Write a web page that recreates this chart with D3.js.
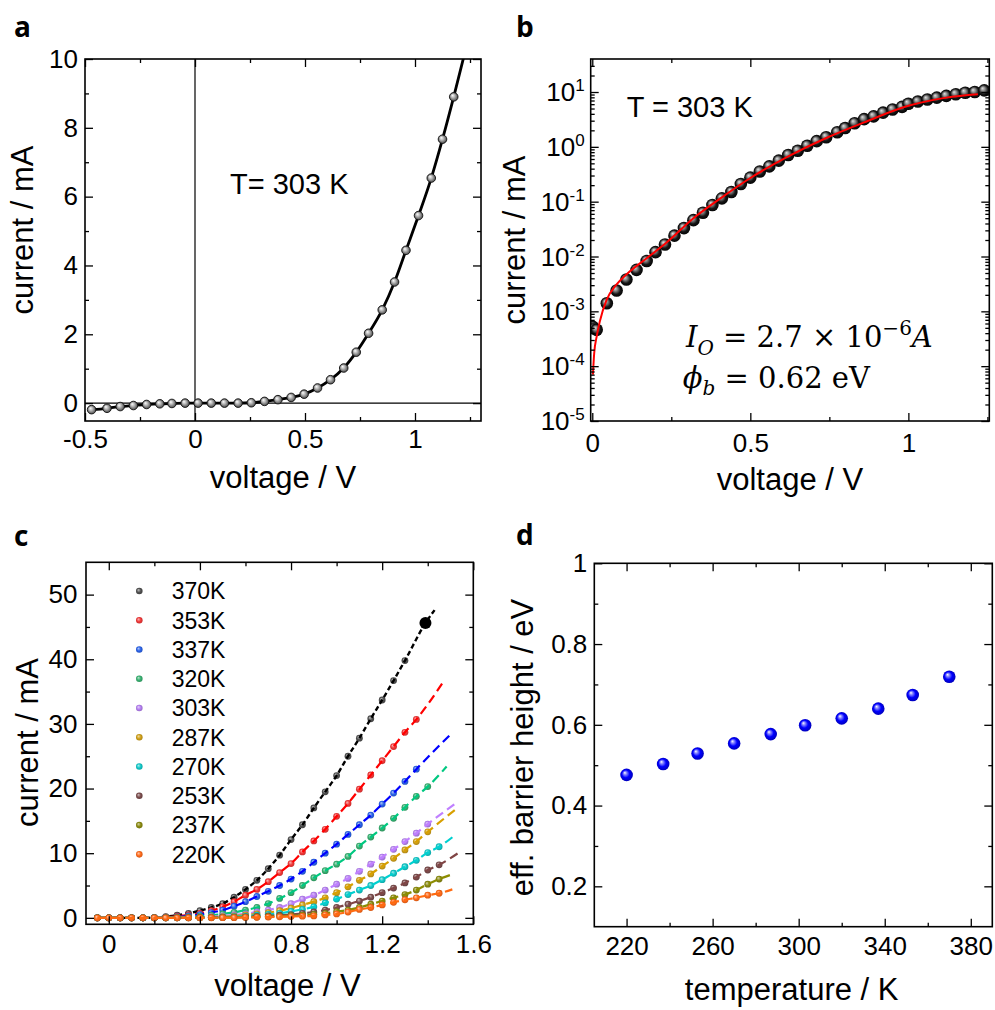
<!DOCTYPE html>
<html>
<head>
<meta charset="utf-8">
<script src="https://cdn.jsdelivr.net/npm/d3@7"></script>
<style>
body { margin: 0; background: #fff; }
text { font-family: "Liberation Sans", Arial, sans-serif; fill: #000; }
</style>
</head>
<body>
<div id="fig"></div>
<script>
// ---- panel a : I-V at 303 K (linear)
var voltA = [-0.47,-0.40,-0.34,-0.28,-0.22,-0.16,-0.105,-0.045,0.014,0.074,0.134,0.196,0.256,0.316,0.377,0.437,0.496,0.557,0.616,0.676,0.733,0.789,0.851,0.907,0.959,1.016,1.074,1.125,1.176];
var currA = [-0.19,-0.15,-0.10,-0.07,-0.04,-0.02,-0.01,0,0,0,0,0,0.01,0.05,0.10,0.165,0.26,0.44,0.68,1.02,1.48,2.03,2.71,3.52,4.44,5.45,6.54,7.67,8.9];
var lineEndA = [1.235, 10.4];

// ---- panel b : I-V at 303 K (log) and fit
var voltB = [0.002,0.014,0.046,0.077,0.108,0.14,0.172,0.2,0.23,0.26,0.29,0.32,0.35,0.38,0.41,0.44,0.47,0.5,0.53,0.56,0.59,0.62,0.65,0.68,0.71,0.74,0.775,0.8,0.83,0.86,0.89,0.92,0.95,0.98,1.0,1.03,1.06,1.09,1.12,1.15,1.18,1.21,1.24];
var currB = [5.2e-4,4.6e-4,1.4e-3,2.4e-3,3.8e-3,5.7e-3,8.3e-3,0.012,0.0166,0.024,0.033,0.046,0.063,0.087,0.115,0.15,0.21,0.275,0.355,0.44,0.56,0.71,0.85,1.05,1.27,1.5,1.85,2.2,2.7,3.2,3.6,4.2,4.8,5.35,6.1,6.7,7.3,7.9,8.5,9.1,9.7,10.0,10.7];
var fitVoltB = [0.002,0.006,0.014,0.024,0.045,0.077,0.108,0.172,0.235,0.32,0.41,0.5,0.62,0.74,0.86,1.0,1.12,1.22];
var fitCurrB = [7e-5,1.7e-4,3.5e-4,6.6e-4,1.6e-3,3.1e-3,4.7e-3,9.3e-3,0.018,0.05,0.12,0.27,0.67,1.45,2.8,5.6,7.9,9.1];

// ---- panel c : I-V at different temperatures
var tempsC = ["370K","353K","337K","320K","303K","287K","270K","253K","237K","220K"];
var markColC = ["#505050","#f03838","#2a62e8","#38b070","#b47ff0","#d0a018","#10c8c8","#7a4c4c","#8a8a10","#ff6a1a"];
var lineColC = ["#000000","#ff0000","#0000ff","#00c880","#c080ff","#d8a000","#00d0d0","#804545","#8c8c00","#ff6a10"];
var voltC = [-0.05,0,0.05,0.1,0.15,0.2,0.25,0.3,0.35,0.4,0.45,0.5,0.55,0.6,0.65,0.7,0.75,0.8,0.85,0.9,0.95,1.0,1.05,1.1,1.15,1.2,1.25,1.3,1.35,1.4,1.45];
var cur370 = [0,0,0,0,0,0.02,0.2,0.4,0.7,1.1,1.6,2.2,3.2,4.4,5.8,7.6,9.7,12.1,14.4,17.0,19.5,22.0,25.0,27.8,30.8,33.7,36.7,39.8];
var cur353 = [0,0,0,0,0,0.02,0.1,0.25,0.45,0.7,1.1,1.7,2.5,3.5,4.4,5.6,7.0,8.4,10.2,11.9,13.7,15.7,17.7,19.9,22.1,24.3,26.5,28.7,30.7];
var cur337 = [0,0,0,0,0,0.01,0.05,0.15,0.3,0.5,0.8,1.2,1.8,2.5,3.3,4.1,5.0,6.0,7.2,8.6,10.0,11.4,12.9,14.4,15.9,17.6,19.3,21.1,23.0];
var cur320 = [0,0,0,0,0,0,0.02,0.08,0.15,0.25,0.4,0.6,0.85,1.2,1.6,2.2,3.0,3.9,5.0,6.2,7.3,8.3,9.5,11.1,12.5,13.9,15.4,17.1,18.8,20.3];
var cur303 = [0,0,0,0,0,0,0.01,0.03,0.06,0.1,0.18,0.3,0.45,0.6,0.9,1.2,1.6,2.2,2.9,3.5,4.3,5.2,6.1,7.2,8.3,9.4,10.6,11.8,13.1,14.5];
var cur287 = [0,0,0,0,0,0,0.01,0.02,0.04,0.07,0.12,0.2,0.3,0.45,0.6,0.8,1.1,1.5,2.0,2.5,3.1,3.9,4.8,5.8,6.8,8.0,9.2,10.5,11.8,13.3];
var cur270 = [0,0,0,0,0,0,0,0.01,0.02,0.04,0.07,0.12,0.2,0.28,0.4,0.55,0.7,1.0,1.3,1.7,2.3,2.9,3.6,4.3,5.0,5.9,6.9,7.9,8.9,10.1,11.0];
var cur253 = [0,0,0,0,0,0,0,0,0.01,0.02,0.04,0.06,0.1,0.15,0.22,0.3,0.4,0.5,0.7,0.9,1.2,1.6,2.1,2.6,3.2,3.9,4.6,5.4,6.3,7.4,8.2];
var cur237 = [0,0,0,0,0,0,0,0,0,0.01,0.02,0.04,0.06,0.09,0.13,0.18,0.24,0.32,0.4,0.55,0.7,0.95,1.2,1.6,2.1,2.6,3.1,3.6,4.3,5.2,6.0];
var cur220 = [0,0,0,0,0,0,0,0,0,0,0.01,0.02,0.03,0.05,0.08,0.11,0.15,0.2,0.25,0.3,0.45,0.6,0.9,1.3,1.6,2.0,2.4,2.8,3.1,3.5,3.8];
var currC = [cur370,cur353,cur337,cur320,cur303,cur287,cur270,cur253,cur237,cur220];
var bigPoint370 = [1.39, 45.6];
var fitEndC = [[1.43,47.6],[1.474,36.8],[1.498,28.3],[1.483,23.4],[1.534,18.0],[1.52,16.7],[1.52,12.8],[1.537,10.1],[1.505,6.7],[1.508,4.4]];

// ---- panel d : effective barrier height
var tempD = [220,237,253,270,287,303,320,337,353,370];
var barrierD = [0.476,0.503,0.529,0.554,0.577,0.599,0.616,0.640,0.674,0.719];

var svg = d3.select("#fig").append("svg").attr("width", 995).attr("height", 1010);
var defs = svg.append("defs");

function sphereGrad(id, stops) {
  var g = defs.append("radialGradient").attr("id", id)
    .attr("cx", "50%").attr("cy", "50%").attr("r", "55%")
    .attr("fx", "35%").attr("fy", "32%");
  stops.forEach(function(s) { g.append("stop").attr("offset", s[0]).attr("stop-color", s[1]); });
}
sphereGrad("gA", [["0%","#ffffff"],["40%","#b8b8b8"],["100%","#3a3a3a"]]);
sphereGrad("gB", [["0%","#e0e0e0"],["30%","#8a8a8a"],["65%","#151515"],["100%","#000000"]]);
sphereGrad("gD", [["0%","#ffffff"],["22%","#8c8cff"],["55%","#0000ff"],["100%","#0000b0"]]);
markColC.forEach(function(c, i) {
  sphereGrad("gC" + i, [["0%", d3.interpolateRgb(c, "#ffffff")(0.65)], ["55%", c], ["100%", d3.color(c).darker(0.6)]]);
});

function clip(id, w, h) {
  defs.append("clipPath").attr("id", id).append("rect").attr("width", w).attr("height", h);
}

function addAxes(g, x, y, w, h, o) {
  var list = [
    [d3.axisBottom(x).tickValues(o.xMajor).tickSize(-8).tickPadding(o.xPad).tickFormat(o.xFmt), "translate(0," + h + ")"],
    [d3.axisBottom(x).tickValues(o.xMinor).tickSize(-4).tickFormat(""), "translate(0," + h + ")"],
    [d3.axisTop(x).tickValues(o.xMajor).tickSize(-8).tickFormat(""), null],
    [d3.axisTop(x).tickValues(o.xMinor).tickSize(-4).tickFormat(""), null],
    [d3.axisLeft(y).tickValues(o.yMajor).tickSize(-8).tickPadding(o.yPad).tickFormat(o.yFmt), null],
    [d3.axisLeft(y).tickValues(o.yMinor).tickSize(-4).tickFormat(""), null],
    [d3.axisRight(y).tickValues(o.yMajor).tickSize(-8).tickFormat(""), "translate(" + w + ",0)"],
    [d3.axisRight(y).tickValues(o.yMinor).tickSize(-4).tickFormat(""), "translate(" + w + ",0)"]
  ];
  list.forEach(function(a) {
    var ag = g.append("g").call(a[0]);
    if (a[1]) ag.attr("transform", a[1]);
    ag.attr("font-family", null).attr("font-size", null);
    ag.select(".domain").remove();
    ag.selectAll(".tick line").attr("stroke", "#000").attr("stroke-width", 1.3);
    ag.selectAll(".tick text").style("font-size", "26px");
  });
  g.append("rect").attr("width", w).attr("height", h)
    .attr("fill", "none").attr("stroke", "#000").attr("stroke-width", 1.6);
}

function fmt(d) { return String(d); }

function titles(g, w, h, xt, xBase, yt, yBase, yCenter) {
  g.append("text").attr("x", w / 2 + xt[1]).attr("y", xBase).attr("text-anchor", "middle")
    .style("font-size", "31px").text(xt[0]);
  g.append("text").attr("transform", "translate(" + yBase + "," + yCenter + ") rotate(-90)")
    .attr("text-anchor", "middle").style("font-size", "31px").text(yt);
}

function panelLetter(x, y, s) {
  svg.append("text").attr("x", x).attr("y", y).text(s)
    .style("font-family", "'Open Sans', 'DejaVu Sans', sans-serif")
    .style("font-weight", "bold").style("font-size", "28px");
}

// ================= panel a =================
(function() {
  var L = 85, T = 59, w = 396, h = 362;
  var g = svg.append("g").attr("transform", "translate(" + L + "," + T + ")");
  var x = d3.scaleLinear().domain([-0.5, 1.3]).range([0, w]);
  var y = d3.scaleLinear().domain([-0.52, 10]).range([h, 0]);
  clip("clipA", w, h);
  var pts = voltA.map(function(v, i) { return [v, currA[i]]; });
  var body = g.append("g").attr("clip-path", "url(#clipA)");
  body.append("line").attr("x1", x(0)).attr("x2", x(0)).attr("y1", 0).attr("y2", h).attr("stroke", "#000").attr("stroke-width", 1.2);
  body.append("line").attr("x1", 0).attr("x2", w).attr("y1", y(0)).attr("y2", y(0)).attr("stroke", "#000").attr("stroke-width", 1.2);
  var line = d3.line().x(function(d) { return x(d[0]); }).y(function(d) { return y(d[1]); }).curve(d3.curveMonotoneX);
  body.append("path").attr("d", line(pts.concat([lineEndA]))).attr("fill", "none").attr("stroke", "#000").attr("stroke-width", 2.8);
  body.selectAll("circle").data(pts).enter().append("circle")
    .attr("cx", function(d) { return x(d[0]); }).attr("cy", function(d) { return y(d[1]); })
    .attr("r", 4.3).attr("fill", "url(#gA)").attr("stroke", "#111").attr("stroke-width", 0.9);
  addAxes(g, x, y, w, h, {
    xMajor: [-0.5, 0, 0.5, 1], xMinor: [-0.25, 0.25, 0.75, 1.25], xPad: 9, xFmt: fmt,
    yMajor: [0, 2, 4, 6, 8, 10], yMinor: [1, 3, 5, 7, 9], yPad: 7, yFmt: fmt
  });
  g.append("text").attr("x", 230 - L).attr("y", 193.5 - T).style("font-size", "29px").text("T= 303 K");
  titles(g, w, h, ["voltage / V", 283 - L - w / 2], 488 - T, "current / mA", 33 - L, 230 - T);
})();
panelLetter(14, 37, "a");

// ================= panel b =================
(function() {
  var L = 590.7, T = 59, w = 398.6, h = 362;
  var g = svg.append("g").attr("transform", "translate(" + L + "," + T + ")");
  var x = d3.scaleLinear().domain([-0.005, 1.256]).range([0, w]);
  var y = d3.scaleLog().domain([1e-5, 40]).range([h, 0]);
  clip("clipB", w, h);
  var body = g.append("g").attr("clip-path", "url(#clipB)");
  var pts = voltB.map(function(v, i) { return [v, currB[i]]; });
  body.selectAll("circle").data(pts).enter().append("circle")
    .attr("cx", function(d) { return x(d[0]); }).attr("cy", function(d) { return y(d[1]); })
    .attr("r", 6.3).attr("fill", "url(#gB)");
  var fit = fitVoltB.map(function(v, i) { return [v, fitCurrB[i]]; });
  var line = d3.line().x(function(d) { return x(d[0]); }).y(function(d) { return y(d[1]); }).curve(d3.curveMonotoneX);
  body.append("path").attr("d", line(fit)).attr("fill", "none").attr("stroke", "#ff0000").attr("stroke-width", 2);
  var minor = [];
  for (var e = -5; e <= 1; e++) for (var k = 2; k <= 9; k++) { var v = k * Math.pow(10, e); if (v < 40) minor.push(v); }
  addAxes(g, x, y, w, h, {
    xMajor: [0, 0.5, 1], xMinor: [0.25, 0.75, 1.25], xPad: 13, xFmt: fmt,
    yMajor: [1e-5, 1e-4, 1e-3, 1e-2, 1e-1, 1, 10], yMinor: minor, yPad: 6, yFmt: function() { return ""; }
  });
  // power-of-ten labels
  var yl = g.append("g");
  [1e-5, 1e-4, 1e-3, 1e-2, 1e-1, 1, 10].forEach(function(v) {
    var t = yl.append("text").attr("x", -6).attr("y", y(v) + 9).attr("text-anchor", "end").style("font-size", "26px");
    t.append("tspan").text("10");
    t.append("tspan").attr("dy", -10).style("font-size", "17px").text(Math.round(Math.log10(v)));
  });
  g.append("text").attr("x", 626.7 - L).attr("y", 116.7 - T).style("font-size", "29px").text("T = 303 K");
  var m1 = g.append("text").attr("x", 686 - L).attr("y", 346.7 - T)
    .style("font-family", "'DejaVu Serif', 'Liberation Serif', serif").style("font-size", "29px");
  m1.append("tspan").style("font-style", "italic").text("I");
  m1.append("tspan").style("font-style", "italic").style("font-size", "20px").attr("dy", 8).text("O");
  m1.append("tspan").attr("dy", -8).text(" = 2.7 × 10");
  m1.append("tspan").style("font-size", "20px").attr("dy", -12).text("−6");
  m1.append("tspan").style("font-style", "italic").attr("dy", 12).text("A");
  var m2 = g.append("text").attr("x", 682.7 - L).attr("y", 388.3 - T)
    .style("font-family", "'DejaVu Serif', 'Liberation Serif', serif").style("font-size", "29px");
  m2.append("tspan").style("font-style", "italic").text("ϕ");
  m2.append("tspan").style("font-style", "italic").style("font-size", "20px").attr("dy", 7).text("b");
  m2.append("tspan").attr("dy", -7).text(" = 0.62 eV");
  titles(g, w, h, ["voltage / V", 790 - L - w / 2], 490 - T, "current / mA", 525 - L, 240 - T);
})();
panelLetter(516, 37, "b");

// ================= panel c =================
(function() {
  var L = 86, T = 562.3, w = 387.3, h = 362;
  var g = svg.append("g").attr("transform", "translate(" + L + "," + T + ")");
  var x = d3.scaleLinear().domain([-0.1, 1.6]).range([0, w]);
  var y = d3.scaleLinear().domain([-1, 55]).range([h, 0]);
  clip("clipC", w, h);
  var body = g.append("g").attr("clip-path", "url(#clipC)");
  var line = d3.line().x(function(d) { return x(d[0]); }).y(function(d) { return y(d[1]); }).curve(d3.curveMonotoneX);
  currC.forEach(function(cur, si) {
    var pts = cur.map(function(c, i) { return [voltC[i], c]; });
    var sg = body.append("g");
    sg.selectAll("circle").data(pts).enter().append("circle")
      .attr("cx", function(d) { return x(d[0]); }).attr("cy", function(d) { return y(d[1]); })
      .attr("r", 3.4).attr("fill", "url(#gC" + si + ")");
    var lp = pts.slice();
    if (si === 0) {
      lp.push(bigPoint370);
      sg.append("circle").attr("cx", x(bigPoint370[0])).attr("cy", y(bigPoint370[1])).attr("r", 6).attr("fill", "#000");
    }
    lp.push(fitEndC[si]);
    sg.append("path").attr("d", line(lp)).attr("fill", "none")
      .attr("stroke", lineColC[si]).attr("stroke-width", si === 0 ? 2.4 : 2.2)
      .attr("stroke-dasharray", si === 0 ? "5,3" : "9,5");
  });
  addAxes(g, x, y, w, h, {
    xMajor: [0, 0.4, 0.8, 1.2, 1.6], xMinor: [0.2, 0.6, 1.0, 1.4], xPad: 10.5, xFmt: fmt,
    yMajor: [0, 10, 20, 30, 40, 50], yMinor: [5, 15, 25, 35, 45], yPad: 8.5, yFmt: fmt
  });
  var lg = g.append("g");
  tempsC.forEach(function(t, i) {
    var cy = 591 - T + i * 29.26;
    lg.append("circle").attr("cx", 139.3 - L).attr("cy", cy).attr("r", 3.3).attr("fill", "url(#gC" + i + ")");
    lg.append("text").attr("x", 171.7 - L).attr("y", cy + 8.3).style("font-size", "23px").text(t);
  });
  titles(g, w, h, ["voltage / V", 287.5 - L - w / 2], 996 - T, "current / mA", 38 - L, 742.5 - T);
})();
panelLetter(14, 546, "c");

// ================= panel d =================
(function() {
  var L = 594.3, T = 563.3, w = 398, h = 363.4;
  var g = svg.append("g").attr("transform", "translate(" + L + "," + T + ")");
  var x = d3.scaleLinear().domain([205, 390]).range([0, w]);
  var y = d3.scaleLinear().domain([0.1, 1]).range([h, 0]);
  g.selectAll("circle").data(tempD).enter().append("circle")
    .attr("cx", function(d) { return x(d); }).attr("cy", function(d, i) { return y(barrierD[i]); })
    .attr("r", 6.3).attr("fill", "url(#gD)");
  addAxes(g, x, y, w, h, {
    xMajor: [220, 260, 300, 340, 380], xMinor: [240, 280, 320, 360], xPad: 10, xFmt: fmt,
    yMajor: [0.2, 0.4, 0.6, 0.8, 1], yMinor: [0.3, 0.5, 0.7, 0.9], yPad: 7, yFmt: fmt
  });
  titles(g, w, h, ["temperature / K", 791.7 - L - w / 2], 1000 - T, "eff. barrier height / eV", 533 - L, 747.5 - T);
})();
panelLetter(516, 545, "d");
</script>
</body>
</html>
